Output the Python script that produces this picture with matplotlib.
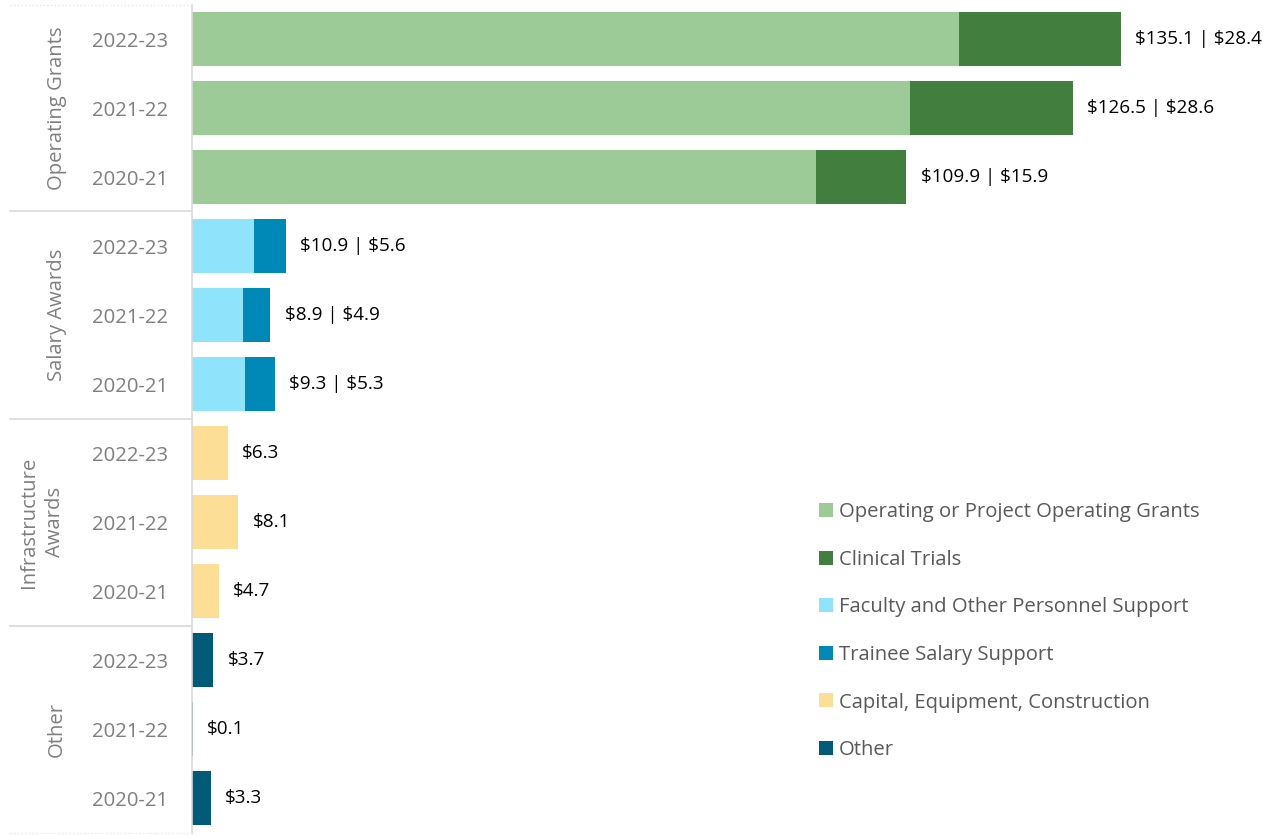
import matplotlib.pyplot as plt
from matplotlib.patches import Patch
from matplotlib.lines import Line2D

plt.rcParams['font.family'] = ['Open Sans', 'DejaVu Sans']

groups = ['Operating Grants', 'Salary Awards', 'Infrastructure\nAwards', 'Other']
years = ['2022-23', '2021-22', '2020-21']

operating = [135.1, 126.5, 109.9]
clinical = [28.4, 28.6, 15.9]
faculty = [10.9, 8.9, 9.3]
trainee = [5.6, 4.9, 5.3]
capital = [6.3, 8.1, 4.7]
other = [3.7, 0.1, 3.3]

legend_labels = ['Operating or Project Operating Grants', 'Clinical Trials',
                 'Faculty and Other Personnel Support', 'Trainee Salary Support',
                 'Capital, Equipment, Construction', 'Other']
colors = ['#9DCB98', '#427F3F', '#8FE3FB', '#0088B7', '#FDDE96', '#005A78']

W, H = 1271, 835
fig = plt.figure(figsize=(W/100, H/100), dpi=100)
ax = fig.add_axes([192/W, (H-832.5)/H, 1-192/W, (832.5-4.5)/H])

bh = 54/69
label_color = '#7F7F7F'
fs_lab = 13.6
fs_tick = 14.6
fs_leg = 14.6

def label(y, x, text):
    ax.annotate(text, (x, y), xytext=(10.5, 0), textcoords='offset points',
                va='center', ha='left', fontsize=fs_lab, color='black')

for i in range(3):
    y = i
    ax.barh(y, operating[i], height=bh, color=colors[0])
    ax.barh(y, clinical[i], left=operating[i], height=bh, color=colors[1])
    label(y, operating[i] + clinical[i], f'\\${operating[i]:.1f} | \\${clinical[i]:.1f}')
for i in range(3):
    y = 3 + i
    ax.barh(y, faculty[i], height=bh, color=colors[2])
    ax.barh(y, trainee[i], left=faculty[i], height=bh, color=colors[3])
    label(y, faculty[i] + trainee[i], f'\\${faculty[i]:.1f} | \\${trainee[i]:.1f}')
for i in range(3):
    y = 6 + i
    ax.barh(y, capital[i], height=bh, color=colors[4])
    label(y, capital[i], f'\\${capital[i]:.1f}')
for i in range(3):
    y = 9 + i
    ax.barh(y, other[i], height=bh, color=colors[5])
    label(y, other[i], f'\\${other[i]:.1f}')

ax.set_ylim(11.5, -0.5)
ax.set_xlim(0, 190)
ax.set_yticks(range(12))
ax.set_yticklabels(years * 4, fontsize=fs_tick, color=label_color)
ax.tick_params(axis='y', length=0, pad=17)
ax.set_xticks([])
for s in ['top', 'right', 'bottom']:
    ax.spines[s].set_visible(False)
ax.spines['left'].set_color('#D9D9D9')
ax.spines['left'].set_linewidth(1.2)

x0 = 10/W
x1 = 192/W
for g, name in enumerate(groups):
    yc_px = 4.5 + (g*3 + 1.5) * 69
    xc = 42 if '\n' in name else 57
    fig.text(xc/W, 1 - yc_px/H, name, rotation=90, ha='center', va='center',
             fontsize=fs_tick, color=label_color, linespacing=1.35)
for k in range(1, 4):
    ypx = 4.5 + k*3*69
    fig.add_artist(Line2D([x0, x1], [1 - ypx/H, 1 - ypx/H], color='#D9D9D9', lw=1.2))
fig.add_artist(Line2D([x0, x1], [1 - 4.5/H, 1 - 4.5/H], color='#E6E6E6', lw=1, ls=':'))
fig.add_artist(Line2D([x0, x1], [1 - 832.5/H, 1 - 832.5/H], color='#E6E6E6', lw=1, ls=':'))

handles = [Patch(facecolor=c, edgecolor='none') for c in colors]
fig.legend(handles, legend_labels, loc='upper left', bbox_to_anchor=(801/W, 1 - 484/H),
           frameon=False, fontsize=fs_leg, handlelength=0.68, handleheight=0.68,
           handletextpad=0.3, labelspacing=1.36, labelcolor='#595959')

fig.savefig('out.png', dpi=100)
